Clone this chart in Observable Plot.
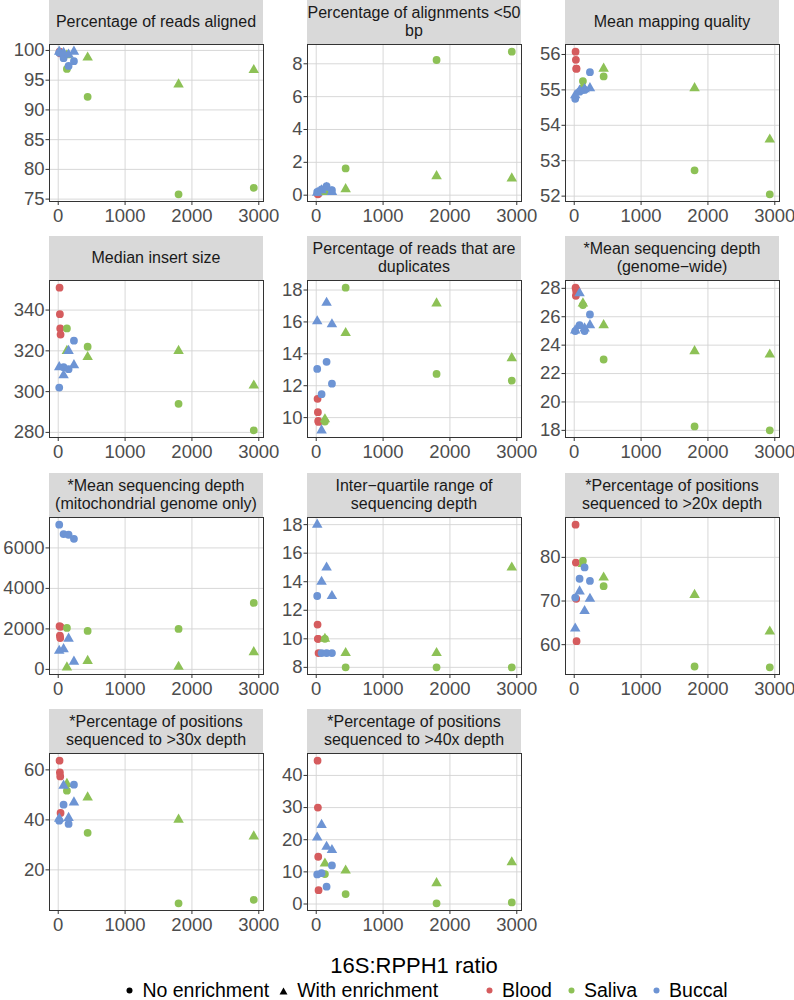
<!DOCTYPE html>
<html><head><meta charset="utf-8">
<script src="https://cdn.jsdelivr.net/npm/d3@7"></script>
<script src="https://cdn.jsdelivr.net/npm/@observablehq/plot@0.6"></script>
<style>
body{margin:0;background:#fff;font-family:"Liberation Sans",Arial,sans-serif;}
#fig{position:relative;width:794px;height:1000px;overflow:hidden;background:#fff;}
.strip{position:absolute;background:#d9d9d9;display:flex;align-items:center;justify-content:center;text-align:center;color:#1a1a1a;font-size:16px;line-height:18px;white-space:pre;}
.pan{position:absolute;}
.pan svg{overflow:visible;}
#xtitle{position:absolute;left:49px;width:730px;text-align:center;top:953px;font-size:22px;line-height:26px;color:#000;}
#legend{position:absolute;left:0;width:854px;top:979px;display:flex;justify-content:center;align-items:center;font-size:19.5px;color:#000;}
#legend .it{display:flex;align-items:center;}
#legend svg{margin-right:9px;}
</style></head><body><div id="fig"></div>
<script>
// ---- categories ----
const tissues = ["Blood", "Saliva", "Buccal"];
const tissueColors = ["#d55c5e", "#8dc156", "#6d94d4"];
const enrichment = ["No enrichment", "With enrichment"];
// ---- samples (blood x4, saliva no/with x4, buccal no/with x4) ----
const sampleTissue = ["Blood","Blood","Blood","Blood",
  "Saliva","Saliva","Saliva","Saliva","Saliva","Saliva","Saliva","Saliva",
  "Buccal","Buccal","Buccal","Buccal","Buccal","Buccal","Buccal","Buccal"];
const sampleEnrichment = ["No enrichment","No enrichment","No enrichment","No enrichment",
  "No enrichment","No enrichment","No enrichment","No enrichment",
  "With enrichment","With enrichment","With enrichment","With enrichment",
  "No enrichment","No enrichment","No enrichment","No enrichment",
  "With enrichment","With enrichment","With enrichment","With enrichment"];
const ratio16S = [20, 25, 30, 35, 130, 440, 1800, 2925, 130, 440, 1800, 2925, 15, 80, 155, 235, 15, 80, 155, 235];
// ---- metric values (same sample order) ----
const readsAligned =   [99.8, 99.6, 99.7, 99.5, 96.9, 92.2, 75.8, 76.9, 99.2, 98.8, 94.3, 96.7, 99.6, 98.7, 97.4, 98.2, 99.8, 99.6, 99.3, 99.8];
const alignmentsLt50 = [0.1, 0.05, 0.15, 0.1, 0.25, 1.63, 8.23, 8.74, 0.2, 0.37, 1.16, 1.02, 0.2, 0.35, 0.55, 0.3, 0.15, 0.3, 0.45, 0.2];
const mappingQuality = [56.08, 55.85, 55.6, 55.6, 55.25, 55.38, 52.73, 52.05, 55.1, 55.6, 55.05, 53.6, 54.75, 54.95, 55.0, 55.5, 54.85, 54.98, 55.02, 55.05];
const insertSize =     [351, 338, 331, 328, 331, 322, 294, 281, 320, 317, 320, 303, 302, 312, 311, 325, 312, 308, 320, 313];
const duplicates =     [11.18, 10.34, 9.8, 9.73, 9.75, 18.15, 12.74, 12.32, 9.9, 15.3, 17.16, 13.73, 13.05, 11.47, 13.5, 12.13, 16.04, 9.2, 17.2, 15.85];
const depthGenome =    [28.05, 27.48, 27.8, 27.9, 26.82, 22.99, 18.28, 18.0, 26.94, 25.41, 23.58, 23.34, 24.99, 25.41, 24.99, 26.16, 25.04, 27.65, 25.18, 25.41];
const depthMito =      [2135, 1670, 1550, 2100, 2050, 1900, 2000, 3285, 100, 420, 130, 850, 7150, 6685, 6650, 6450, 920, 1000, 1520, 385];
const depthIQR =       [11, 10, 10, 9, 10, 8, 8, 8, 10, 9, 9, 15, 13, 9, 9, 9, 18, 14, 15, 13];
const pos20x =         [87.5, 78.8, 70.5, 60.8, 79.2, 73.4, 55.0, 54.8, 78.5, 75.4, 71.4, 63.0, 70.8, 75.1, 77.7, 74.6, 63.7, 72.2, 67.7, 70.5];
const pos30x =         [63.7, 59.0, 57.4, 42.8, 51.7, 34.8, 6.6, 8.0, 54.4, 49.0, 40.1, 33.4, 39.7, 46.1, 38.4, 54.1, 40.5, 53.7, 40.8, 47.0];
const pos40x =         [44.6, 30.0, 14.7, 4.3, 9.3, 3.1, 0.2, 0.5, 12.6, 10.4, 6.5, 13.0, 9.2, 9.6, 5.4, 12.0, 20.7, 24.6, 17.8, 16.8];
// ---- panel titles and ticks ----
const panelTitles = [
  "Percentage of reads aligned",
  "Percentage of alignments <50\nbp",
  "Mean mapping quality",
  "Median insert size",
  "Percentage of reads that are\nduplicates",
  "*Mean sequencing depth\n(genome\u2212wide)",
  "*Mean sequencing depth\n(mitochondrial genome only)",
  "Inter\u2212quartile range of\nsequencing depth",
  "*Percentage of positions\nsequenced to >20x depth",
  "*Percentage of positions\nsequenced to >30x depth",
  "*Percentage of positions\nsequenced to >40x depth"
];
const panelValues = [readsAligned, alignmentsLt50, mappingQuality, insertSize, duplicates, depthGenome, depthMito, depthIQR, pos20x, pos30x, pos40x];
const xTicks = [0, 1000, 2000, 3000];
const yTicks = [
  [75, 80, 85, 90, 95, 100],
  [0, 2, 4, 6, 8],
  [52, 53, 54, 55, 56],
  [280, 300, 320, 340],
  [10, 12, 14, 16, 18],
  [18, 20, 22, 24, 26, 28],
  [0, 2000, 4000, 6000],
  [8, 10, 12, 14, 16, 18],
  [60, 70, 80],
  [20, 40, 60],
  [0, 10, 20, 30, 40]
];
const xTitle = "16S:RPPH1 ratio";

// ---- layout ----
const fig = document.getElementById("fig");
const colLeft = [49, 307, 565];
const rowTop = [0, 236.3, 472.6, 708.9];
const PW = 214, PH = 157, SH = 44, ML = 50, MR = 10, MB = 30;
const fmt = d => String(d);

function expand(vals) {
  const [a, b] = d3.extent(vals);
  const r = b - a;
  return [a - 0.05 * r, b + 0.05 * r];
}

panelValues.forEach((vals, i) => {
  const c = i % 3, r = Math.floor(i / 3);
  const strip = document.createElement("div");
  strip.className = "strip";
  strip.style.left = colLeft[c] + "px";
  strip.style.top = rowTop[r] + "px";
  strip.style.width = PW + "px";
  strip.style.height = SH + "px";
  strip.textContent = panelTitles[i];
  fig.appendChild(strip);

  const data = vals.map((v, j) => ({x: ratio16S[j], y: v, tissue: sampleTissue[j], enr: sampleEnrichment[j]}));
  const plot = Plot.plot({
    width: ML + PW + MR,
    height: PH + MB,
    marginLeft: ML, marginRight: MR, marginTop: 0, marginBottom: MB,
    x: {domain: expand(ratio16S)},
    y: {domain: expand(vals)},
    color: {domain: tissues, range: tissueColors},
    symbol: {domain: enrichment, range: ["circle", "triangle"]},
    style: {fontFamily: "'Liberation Sans', Arial, sans-serif", fontSize: "18.5px", background: "transparent", overflow: "visible"},
    marks: [
      Plot.gridX(xTicks, {stroke: "#d4d4d4", strokeOpacity: 1, strokeWidth: 0.9}),
      Plot.gridY(yTicks[i], {stroke: "#d4d4d4", strokeOpacity: 1, strokeWidth: 0.9}),
      Plot.dot(data, {x: "x", y: "y", fill: "tissue", symbol: "enr", r: 3.9}),
      Plot.frame({stroke: "#333333", strokeWidth: 1}),
      Plot.axisX(xTicks, {tickSize: 4, tickPadding: 3, stroke: "#333333", fill: "#4d4d4d", fontSize: 18.5, tickFormat: fmt, label: null}),
      Plot.axisY(yTicks[i], {tickSize: 3.5, tickPadding: 1.5, stroke: "#333333", fill: "#4d4d4d", fontSize: 18.5, tickFormat: fmt, label: null})
    ]
  });
  const holder = document.createElement("div");
  holder.className = "pan";
  holder.style.left = (colLeft[c] - ML) + "px";
  holder.style.top = (rowTop[r] + SH) + "px";
  holder.appendChild(plot);
  fig.appendChild(holder);
});

const xt = document.createElement("div");
xt.id = "xtitle";
xt.textContent = xTitle;
fig.appendChild(xt);

// ---- legend ----
const leg = document.createElement("div");
leg.id = "legend";
function item(shape, color, text, mr) {
  const d = document.createElement("div");
  d.className = "it";
  d.style.marginRight = mr + "px";
  const s = shape === "circle"
    ? `<svg width="7" height="7"><circle cx="3.5" cy="3.5" r="3" fill="${color}"/></svg>`
    : `<svg width="9" height="8"><path d="M4.5 0.5 L8.5 7.5 L0.5 7.5 Z" fill="${color}"/></svg>`;
  d.innerHTML = s + `<span>${text}</span>`;
  return d;
}
leg.appendChild(item("circle", "#000", enrichment[0], 10));
leg.appendChild(item("triangle", "#000", enrichment[1], 48));
tissues.forEach((t, k) => leg.appendChild(item("circle", tissueColors[k], t, k < 2 ? 16 : 0)));
fig.appendChild(leg);
</script></body></html>
